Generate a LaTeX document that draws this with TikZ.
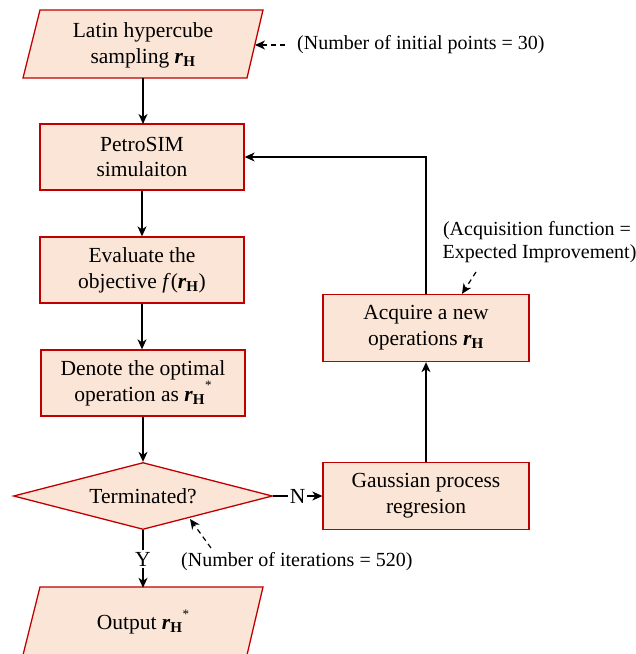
\documentclass[tikz,border=0pt]{standalone}
\usepackage{amsmath}
\usepackage{fontspec}
\setmainfont{Liberation Serif}
\usetikzlibrary{arrows.meta,calc,shapes.geometric}
\definecolor{boxfill}{HTML}{FBE5D6}
\definecolor{boxline}{HTML}{C00000}
\newcommand{\rH}{\textbf{\textit{r}}$_{\textbf{H}}$}
\newcommand{\rHs}{\textbf{\textit{r}}$_{\textbf{H}}$\raisebox{0.55em}{\fontsize{13}{13}\selectfont *}}
\tikzset{
  mainfont/.style={font=\fontsize{21.5}{25.8}\selectfont},
  annfont/.style={font=\fontsize{20}{23}\selectfont},
  proc/.style={draw=boxline, fill=boxfill, line width=1.3pt, minimum width=204pt, minimum height=66pt, align=center, inner sep=0pt, mainfont},
  paratext/.style={minimum width=200pt, minimum height=68pt, align=center, inner sep=0pt, mainfont},
  parashape/.style={draw=boxline, fill=boxfill, line width=1.3pt, line join=miter},
  decide/.style={diamond, draw=boxline, fill=boxfill, line width=1.3pt, minimum width=259pt, minimum height=67pt, aspect=3.8, inner sep=0pt, mainfont},
  arr/.style={line width=1.2pt, -{Stealth[length=10pt,width=9pt,inset=3pt]}},
  dasharr/.style={line width=1.2pt, dash pattern=on 5pt off 4pt, -{Stealth[length=10pt,width=9pt,inset=3pt]}},
  ann/.style={inner sep=0pt, annfont, align=center},
  lbl/.style={fill=white, inner sep=1.5pt, mainfont}
}
\begin{document}
\begin{tikzpicture}[x={(1pt,0pt)}, y={(0pt,-1pt)}]
\useasboundingbox (0,0) rectangle (636,654);
\begin{scope}
\clip (0,0) rectangle (636,654);
% parallelograms
\draw[parashape] (40,10) -- (263,10) -- (247,78) -- (23,78) -- cycle;
\draw[parashape] (40,587) -- (263,587) -- (247,655) -- (23,655) -- cycle;
\end{scope}
\node[paratext] (lhs) at (143,45) {Latin hypercube\\sampling \rH};
\node[paratext] (out) at (143,622) {Output \rHs};

\node[proc] (petro) at (142,157) {PetroSIM\\simulaiton};
\node[proc] (eval) at (142,270) {Evaluate the\\objective \textit{f}(\rH)};
\node[proc] (denote) at (143,383) {Denote the optimal\\operation as \rHs};
\node[decide] (term) at (143,496) {Terminated?};
\node[proc, minimum width=206pt, minimum height=67pt] (gauss) at (426,496) {Gaussian process\\regresion};
\node[proc, minimum width=206pt, minimum height=67pt] (acq) at (426,328) {Acquire a new\\operations \rH};

% main flow
\draw[arr] (143,78) -- (143,124);
\draw[arr] (petro) -- (eval);
\draw[arr] (eval) -- (eval.south |- denote.north);
\draw[arr] (denote) -- (term);
\draw[arr] (term.south) -- node[lbl] (ylab) {Y} (out.north);
\draw[arr] (term.east) -- node[lbl] (nlab) {N} (gauss.west);
\draw[arr] (gauss) -- (acq);
\draw[arr] (acq.north) -- (acq.north |- petro.east) -- (petro.east);

% annotations
\node[ann, anchor=west] (a1) at (297,45) {(Number of initial points = 30)};
\coordinate (lhsR) at (255,45);
\draw[dasharr] ([xshift=-12pt]a1.west) -- (lhsR);

\node[ann] (a2) at (537,242) {(Acquisition function =\\ \ Expected Improvement)};
\coordinate (a2s) at (476,272);
\draw[dasharr] (a2s) -- ([xshift=36pt]acq.north);

\node[ann, anchor=west] (a3) at (181,562) {(Number of iterations = 520)};
\coordinate (a3s) at (211,548);
\coordinate (termE) at (190,519);
\draw[dasharr] (a3s) -- (termE);
\end{tikzpicture}
\end{document}
